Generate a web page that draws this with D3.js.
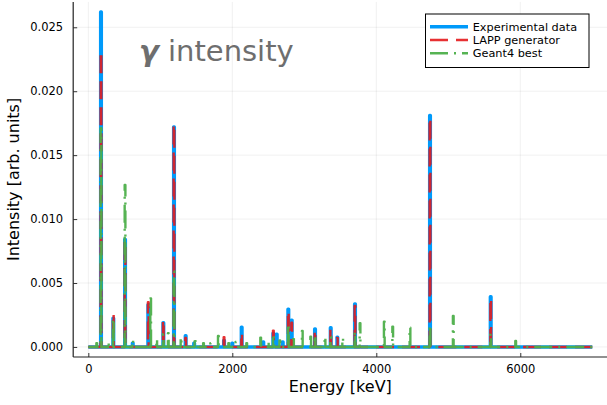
<!DOCTYPE html>
<html><head><meta charset="utf-8">
<script src="https://cdn.jsdelivr.net/npm/d3@7"></script>
<style>body{margin:0;background:#fff}</style></head>
<body><svg id="c" width="607" height="405"></svg>
<script>
// ---- data (peak energies in keV, intensities in arb. units) ----
const expEnergy    = [176, 347, 510, 617, 833, 1042, 1190, 1352, 1470, 1885, 2000, 2130, 2430, 2570, 2617, 2700, 2778, 2825, 3149, 3367, 3459, 3704, 4746, 5589];
const expIntensity = [0.0262, 0.00224, 0.0084, 0.0003, 0.0033, 0.0019, 0.0172, 0.00088, 0.0003, 0.0005, 0.0003, 0.00154, 0.0004, 0.00107, 0.0010, 0.0004, 0.00295, 0.0021, 0.00141, 0.00151, 0.00076, 0.00336, 0.0181, 0.00393];

const lappEnergy    = [176, 347, 510, 833, 1042, 1190, 1352, 1885, 2130, 2570, 2778, 2825, 3149, 3367, 3459, 3704, 4746, 5589];
const lappIntensity = [0.0231, 0.00258, 0.0083, 0.0035, 0.0021, 0.0174, 0.0007, 0.00076, 0.0011, 0.00128, 0.0028, 0.0019, 0.0013, 0.0014, 0.0007, 0.0032, 0.0179, 0.0038];

const g4Energy    = [117, 176, 278, 347, 510, 617, 866, 950, 1042, 1111, 1190, 1288, 1482, 1600, 1700, 1806, 1950, 2050, 2200, 2394, 2500, 2570, 2660, 2778, 2850, 2972, 3089, 3149, 3288, 3367, 3533, 3704, 3774, 4111, 4228, 4468, 4746, 5069, 5589, 5936];
const g4Intensity = [0.0003, 0.0171, 0.0004, 0.0022, 0.01267, 0.00055, 0.0038, 0.0006, 0.0010, 0.00107, 0.0059, 0.00076, 0.00073, 0.0003, 0.0003, 0.00086, 0.0003, 0.0004, 0.0003, 0.00073, 0.0004, 0.0010, 0.0005, 0.0018, 0.0009, 0.00125, 0.0008, 0.0009, 0.0008, 0.0008, 0.0007, 0.0012, 0.00185, 0.00198, 0.00159, 0.00151, 0.0017, 0.00242, 0.00107, 0.00047];

const energyRange = [0, 7000];
const xTicks = [0, 2000, 4000, 6000];
const yTicks = [0, 0.005, 0.010, 0.015, 0.020, 0.025];
const yTickLabels = ["0.000", "0.005", "0.010", "0.015", "0.020", "0.025"];
const seriesNames = ["Experimental data", "LAPP generator", "Geant4 best"];

// ---- layout ----
const svg = d3.select("#c");
const L = 73.2, R = 607.4, T = 1.9, B = 357;
const x = d3.scaleLinear().domain([-210, 7210]).range([L, R]);
const y = d3.scaleLinear().domain([-0.000786, 0.026986]).range([B, T]);
const font = "DejaVu Sans";

svg.append("defs").append("clipPath").attr("id", "clip")
  .append("rect").attr("x", L).attr("y", T).attr("width", R - L).attr("height", B - T);

// grid
const grid = svg.append("g").attr("stroke", "#000").attr("stroke-opacity", 0.1).attr("stroke-width", 0.6);
xTicks.forEach(t => grid.append("line").attr("x1", x(t)).attr("x2", x(t)).attr("y1", T).attr("y2", B));
yTicks.forEach(t => grid.append("line").attr("x1", L).attr("x2", R).attr("y1", y(t)).attr("y2", y(t)));

// axes
const xAxis = d3.axisBottom(x).tickValues(xTicks).tickSize(-4).tickPadding(8).tickFormat(d3.format("d"));
const yAxis = d3.axisLeft(y).tickValues(yTicks).tickSize(-4).tickPadding(10).tickFormat((d, i) => yTickLabels[i]);
const gx = svg.append("g").attr("transform", `translate(0,${B})`).call(xAxis);
const gy = svg.append("g").attr("transform", `translate(${L},0)`).call(yAxis);
[gx, gy].forEach(g => {
  g.select(".domain").remove();
  g.selectAll(".tick line").attr("stroke", "#000").attr("stroke-width", 0.8);
  g.selectAll(".tick text").attr("font-family", font).attr("font-size", 11.5).attr("fill", "#000");
});
gx.selectAll(".tick text").attr("dy", "0.71em");
svg.append("line").attr("x1", L).attr("x2", R).attr("y1", B).attr("y2", B).attr("stroke", "#222").attr("stroke-width", 1.2);
svg.append("line").attr("x1", L).attr("x2", L).attr("y1", T).attr("y2", B).attr("stroke", "#222").attr("stroke-width", 1.2);

// series
function spectrum(E, I) {
  const w = 5;
  const pts = [[energyRange[0], 0]];
  E.map((e, i) => [e, I[i]]).sort((a, b) => a[0] - b[0]).forEach(([e, h]) => {
    pts.push([e - w, 0], [e - w, h], [e + w, h], [e + w, 0]);
  });
  pts.push([energyRange[1], 0]);
  return pts;
}
const line = d3.line().x(d => x(d[0])).y(d => y(d[1]));
const styles = [
  {E: expEnergy, I: expIntensity, color: "#009AFA", w: 3.4, dash: null, op: 1},
  {E: lappEnergy, I: lappIntensity, color: "#e41a1c", w: 2.4, dash: "18,8", op: 0.9},
  {E: g4Energy, I: g4Intensity, color: "#4daf4a", w: 2.4, dash: "18,6,2,6", op: 0.95}
];
const plot = svg.append("g").attr("clip-path", "url(#clip)");
styles.forEach(s => {
  plot.append("path").datum(spectrum(s.E, s.I)).attr("d", line)
    .attr("fill", "none").attr("stroke", s.color).attr("stroke-width", s.w)
    .attr("stroke-opacity", s.op).attr("stroke-linejoin", "round")
    .attr("stroke-dasharray", s.dash);
});

// annotation title
const ttl = svg.append("text").attr("x", 139).attr("y", 61).attr("font-family", font)
  .attr("font-size", 29).attr("fill", "#6e6e6e");
ttl.append("tspan").attr("font-weight", "bold").attr("font-style", "italic").text("γ");
ttl.append("tspan").text(" intensity");

// legend
const lg = svg.append("g");
lg.append("rect").attr("x", 425.5).attr("y", 14).attr("width", 163.5).attr("height", 53.5)
  .attr("fill", "#fff").attr("stroke", "#000").attr("stroke-width", 1);
styles.forEach((s, i) => {
  const yy = 26.7 + i * 13.3;
  lg.append("line").attr("x1", 430).attr("x2", 468).attr("y1", yy).attr("y2", yy)
    .attr("stroke", s.color).attr("stroke-width", s.w).attr("stroke-opacity", s.op)
    .attr("stroke-dasharray", s.dash);
  lg.append("text").attr("x", 472.7).attr("y", yy).attr("dy", "0.36em")
    .attr("font-family", font).attr("font-size", 11.3).text(seriesNames[i]);
});

// axis labels
svg.append("text").attr("x", (L + R) / 2).attr("y", 392).attr("text-anchor", "middle")
  .attr("font-family", font).attr("font-size", 16).text("Energy [keV]");
svg.append("text").attr("transform", `translate(19,${(T + B) / 2}) rotate(-90)`).attr("text-anchor", "middle")
  .attr("font-family", font).attr("font-size", 16).text("Intensity [arb. units]");
</script></body></html>
